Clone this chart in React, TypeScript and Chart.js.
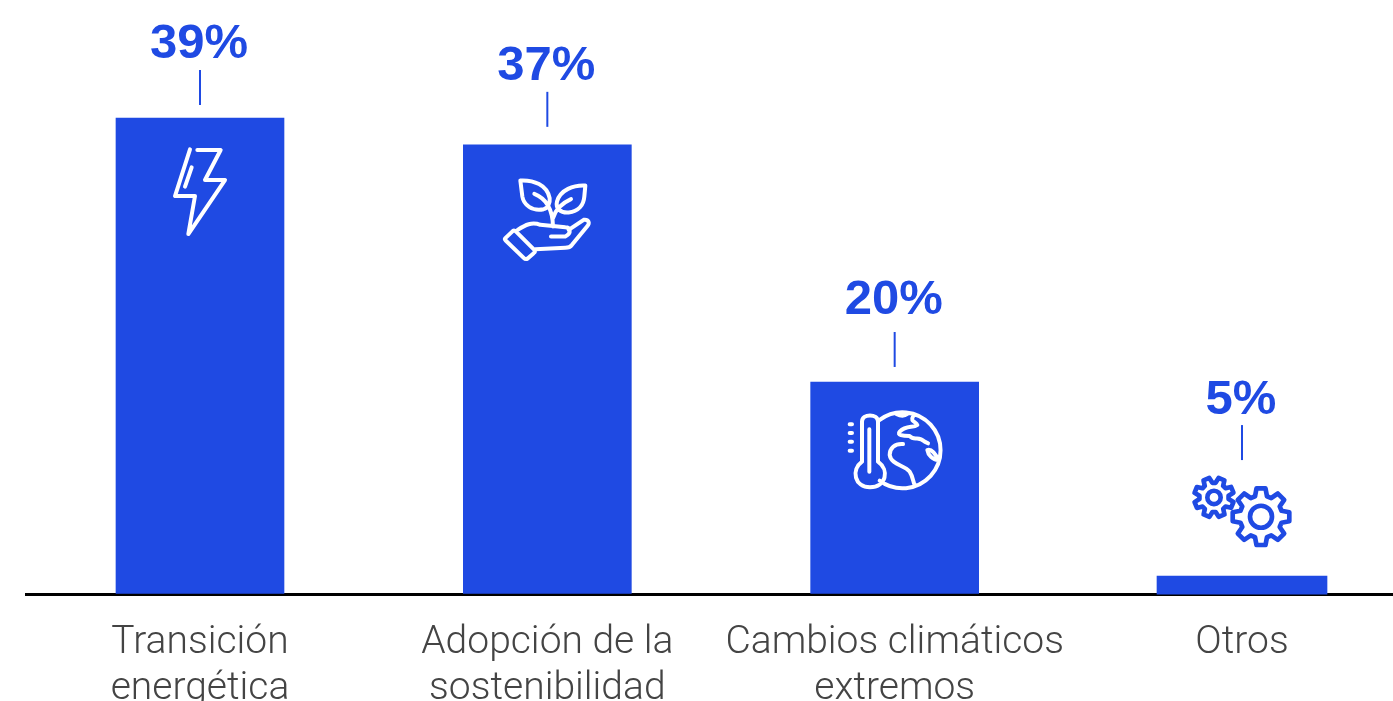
import React, { useEffect, useRef } from "react";
import { Chart, registerables } from "chart.js";

Chart.register(...registerables);

// Data
const categories: string[][] = [
  ["Transición", "energética"],
  ["Adopción de la", "sostenibilidad"],
  ["Cambios climáticos", "extremos"],
  ["Otros"],
];
const barHeights: number[] = [39, 36.8, 17.35, 1.43];
const valueLabels: string[] = ["39%", "37%", "20%", "5%"];

// Annotation layout, measured from each bar's top
const leaderGap: number[] = [13, 18, 15, 116];
const labelGap: number[] = [12, 12, 18, 11];
const barWidths: number[] = [168, 168, 168, 170];
const baseOverhang: number[] = [0, 0, 0, 1.5];
const LEADER_LEN = 35;

const BLUE = "#1F4AE3";
const TEXT = "#444444";

function gear(cx: number, cy: number, ro: number, ri: number, hole: number, teeth: number, rot: number): string {
  const step = (Math.PI * 2) / teeth;
  let d = "";
  for (let i = 0; i < teeth; i++) {
    const a = rot + i * step;
    const pts: [number, number][] = [
      [ri, a - step * 0.36],
      [ro, a - step * 0.2],
      [ro, a + step * 0.2],
      [ri, a + step * 0.36],
    ];
    pts.forEach(([r, t], j) => {
      const x = cx + r * Math.sin(t);
      const y = cy - r * Math.cos(t);
      d += `${i === 0 && j === 0 ? "M" : "L"}${x.toFixed(1)} ${y.toFixed(1)} `;
    });
  }
  d += `Z M${cx + hole} ${cy} A${hole} ${hole} 0 1 1 ${cx - hole} ${cy} A${hole} ${hole} 0 1 1 ${cx + hole} ${cy} Z`;
  return d;
}

// Icons are outlined in a 3x local grid, placed relative to the bar's top centre
const icons = [
  {
    dx: -50, dy: 12, color: "#ffffff", stroke: 12,
    path: "M120 58 L75 198 L135 198 L115 312 L225 150 L165 150 L212 60 L142 60 M125 112 L105 170",
  },
  {
    dx: -57, dy: 25, color: "#ffffff", stroke: 12,
    path:
      "M90 32 C130 30 170 45 178 85 C180 100 172 115 160 118 C125 125 100 105 96 80 Z " +
      "M285 47 C250 45 210 60 200 95 C195 115 210 130 235 128 C265 125 280 105 282 80 Z " +
      "M132 72 C165 85 187 115 188 170 M242 88 C215 100 195 120 188 145 " +
      "M45 205 L68 183 Q72 180 78 186 L132 240 Q136 246 130 250 L112 266 Q106 270 100 264 L46 212 Q42 208 45 205 Z " +
      "M82 180 C105 165 125 155 150 165 L225 172 C240 172 245 190 225 200 L182 200 " +
      "M235 180 L280 150 C295 148 300 160 290 170 L245 225 C240 232 235 234 225 234 L135 238",
  },
  {
    dx: -60, dy: 18, color: "#ffffff", stroke: 12,
    path:
      "M82 185 L82 65 C82 40 130 40 130 65 L130 185 C165 210 155 262 106 262 C60 262 48 210 82 185 Z " +
      "M104 88 L104 215 M45 73 L52 73 M45 99 L52 99 M45 125 L52 125 M45 152 L52 152 " +
      "M135 60 A114 114 0 1 1 135 242 " +
      "M185 42 Q205 52 218 42 M235 50 C225 65 245 65 248 75 C235 85 215 75 195 95 C185 105 205 108 225 108 C240 125 250 105 270 125 L280 130 " +
      "M205 132 C180 130 165 145 165 165 C170 195 210 195 225 215 C235 230 235 245 240 255 " +
      "M278 150 C290 145 305 165 310 180 C295 180 280 165 278 150 Z",
  },
  {
    dx: -102, dy: -116, color: BLUE, stroke: 14,
    path: gear(222, 112, 60, 44, 20, 8, 0.39) + " " + gear(363, 170, 86, 64, 33, 8, 0),
  },
];

const annotations = {
  id: "annotations",
  beforeDatasetsDraw(chart: any) {
    chart.getDatasetMeta(0).data.forEach((bar: any, i: number) => {
      bar.width = barWidths[i];
      bar.base = chart.scales.y.getPixelForValue(0) + baseOverhang[i];
    });
  },
  afterDatasetsDraw(chart: any) {
    const { ctx } = chart;
    const bars = chart.getDatasetMeta(0).data;
    bars.forEach((bar: any, i: number) => {
      const leaderBottom = bar.y - leaderGap[i];
      const leaderTop = leaderBottom - LEADER_LEN;
      ctx.save();
      ctx.strokeStyle = BLUE;
      ctx.lineWidth = 2;
      ctx.beginPath();
      ctx.moveTo(bar.x, leaderTop);
      ctx.lineTo(bar.x, leaderBottom);
      ctx.stroke();
      ctx.fillStyle = BLUE;
      ctx.font = 'bold 49px "Liberation Sans"';
      ctx.textAlign = "center";
      ctx.textBaseline = "alphabetic";
      ctx.fillText(valueLabels[i], bar.x - 1, leaderTop - labelGap[i]);
      const ic = icons[i];
      ctx.translate(bar.x + ic.dx, bar.y + ic.dy);
      ctx.scale(1 / 3, 1 / 3);
      ctx.strokeStyle = ic.color;
      ctx.lineWidth = ic.stroke;
      ctx.lineCap = "round";
      ctx.lineJoin = "round";
      ctx.stroke(new Path2D(ic.path));
      ctx.restore();
    });
  },
};

export default function App() {
  const ref = useRef<HTMLCanvasElement>(null);
  useEffect(() => {
    const chart = new Chart(ref.current!, {
      type: "bar",
      data: {
        labels: categories,
        datasets: [
          {
            data: barHeights,
            backgroundColor: BLUE,
            borderWidth: 0,
            barThickness: 168,
          },
        ],
      },
      options: {
        animation: false,
        responsive: false,
        maintainAspectRatio: false,
        layout: { padding: { left: 26.33, right: 0.33, top: 0, bottom: 0 } },
        plugins: { legend: { display: false }, tooltip: { enabled: false } },
        scales: {
          x: {
            grid: { display: false, drawTicks: false },
            border: { display: true, color: "#000000", width: 3 },
            ticks: {
              autoSkip: false,
              maxRotation: 0,
              minRotation: 0,
              padding: 26,
              color: TEXT,
              font: { family: "Roboto", size: 39, weight: "300", lineHeight: 1.18 },
            },
            afterFit(scale: any) {
              scale.height = 701 - 594.5;
            },
          },
          y: {
            display: false,
            min: -0.082,
            max: 48.68,
          },
        },
      },
      plugins: [annotations],
    });
    return () => chart.destroy();
  }, []);
  return (
    <div style={{ position: "absolute", left: 0, top: 0, width: 1393, height: 701, overflow: "hidden", background: "#fff" }}>
      <canvas ref={ref} width={1416} height={701} style={{ display: "block" }} />
    </div>
  );
}
